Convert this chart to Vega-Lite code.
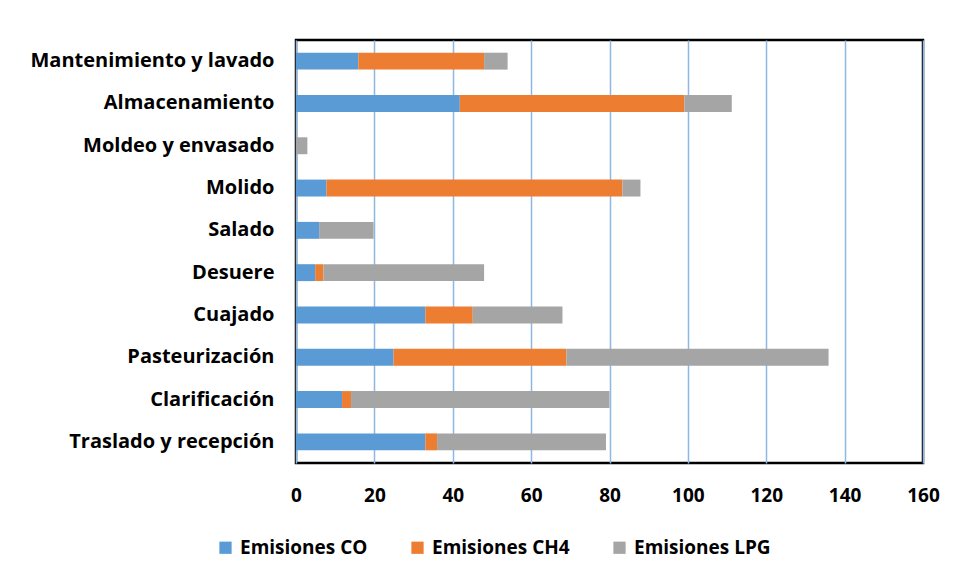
{
  "$schema": "https://vega.github.io/schema/vega-lite/v6.json",
  "width": 627,
  "height": 423,
  "autosize": {"type": "none"},
  "padding": {"left": 296, "top": 40, "right": 35, "bottom": 119},
  "background": "white",
  "data": {
    "values": [
      {"proceso": "Mantenimiento y lavado", "tipo": "Emisiones CO", "orden": 1, "valor": 15.9},
      {"proceso": "Mantenimiento y lavado", "tipo": "Emisiones CH4", "orden": 2, "valor": 32.1},
      {"proceso": "Mantenimiento y lavado", "tipo": "Emisiones LPG", "orden": 3, "valor": 6.0},
      {"proceso": "Almacenamiento", "tipo": "Emisiones CO", "orden": 1, "valor": 41.8},
      {"proceso": "Almacenamiento", "tipo": "Emisiones CH4", "orden": 2, "valor": 57.3},
      {"proceso": "Almacenamiento", "tipo": "Emisiones LPG", "orden": 3, "valor": 12.1},
      {"proceso": "Moldeo y envasado", "tipo": "Emisiones CO", "orden": 1, "valor": 0},
      {"proceso": "Moldeo y envasado", "tipo": "Emisiones CH4", "orden": 2, "valor": 0},
      {"proceso": "Moldeo y envasado", "tipo": "Emisiones LPG", "orden": 3, "valor": 2.9},
      {"proceso": "Molido", "tipo": "Emisiones CO", "orden": 1, "valor": 7.8},
      {"proceso": "Molido", "tipo": "Emisiones CH4", "orden": 2, "valor": 75.5},
      {"proceso": "Molido", "tipo": "Emisiones LPG", "orden": 3, "valor": 4.6},
      {"proceso": "Salado", "tipo": "Emisiones CO", "orden": 1, "valor": 5.9},
      {"proceso": "Salado", "tipo": "Emisiones CH4", "orden": 2, "valor": 0},
      {"proceso": "Salado", "tipo": "Emisiones LPG", "orden": 3, "valor": 13.9},
      {"proceso": "Desuere", "tipo": "Emisiones CO", "orden": 1, "valor": 4.9},
      {"proceso": "Desuere", "tipo": "Emisiones CH4", "orden": 2, "valor": 2.1},
      {"proceso": "Desuere", "tipo": "Emisiones LPG", "orden": 3, "valor": 41.0},
      {"proceso": "Cuajado", "tipo": "Emisiones CO", "orden": 1, "valor": 33.0},
      {"proceso": "Cuajado", "tipo": "Emisiones CH4", "orden": 2, "valor": 12.1},
      {"proceso": "Cuajado", "tipo": "Emisiones LPG", "orden": 3, "valor": 22.9},
      {"proceso": "Pasteurización", "tipo": "Emisiones CO", "orden": 1, "valor": 24.9},
      {"proceso": "Pasteurización", "tipo": "Emisiones CH4", "orden": 2, "valor": 44.1},
      {"proceso": "Pasteurización", "tipo": "Emisiones LPG", "orden": 3, "valor": 66.9},
      {"proceso": "Clarificación", "tipo": "Emisiones CO", "orden": 1, "valor": 11.75},
      {"proceso": "Clarificación", "tipo": "Emisiones CH4", "orden": 2, "valor": 2.3},
      {"proceso": "Clarificación", "tipo": "Emisiones LPG", "orden": 3, "valor": 65.95},
      {"proceso": "Traslado y recepción ", "tipo": "Emisiones CO", "orden": 1, "valor": 33.0},
      {"proceso": "Traslado y recepción ", "tipo": "Emisiones CH4", "orden": 2, "valor": 3.0},
      {"proceso": "Traslado y recepción ", "tipo": "Emisiones LPG", "orden": 3, "valor": 43.1}
    ]
  },
  "mark": {"type": "bar"},
  "encoding": {
    "y": {
      "field": "proceso",
      "type": "nominal",
      "sort": ["Mantenimiento y lavado", "Almacenamiento", "Moldeo y envasado", "Molido", "Salado", "Desuere", "Cuajado", "Pasteurización", "Clarificación", "Traslado y recepción "],
      "scale": {"paddingInner": 0.6, "paddingOuter": 0.3},
      "axis": {
        "title": null,
        "domain": false,
        "ticks": false,
        "labelPadding": 22,
        "labelFont": "Open Sans",
        "labelFontWeight": "bold",
        "labelFontSize": 20,
        "labelColor": "#000000",
        "labelLimit": 400
      }
    },
    "x": {
      "field": "valor",
      "type": "quantitative",
      "stack": "zero",
      "scale": {"domain": [0, 160], "nice": false},
      "axis": {
        "title": null,
        "values": [0, 20, 40, 60, 80, 100, 120, 140, 160],
        "domain": false,
        "ticks": false,
        "grid": true,
        "gridColor": "#8DB8E4",
        "gridWidth": 1.5,
        "labelPadding": 23,
        "labelFont": "Open Sans",
        "labelFontWeight": "bold",
        "labelFontSize": 19,
        "labelColor": "#000000",
        "labelFlush": false
      }
    },
    "color": {
      "field": "tipo",
      "type": "nominal",
      "sort": ["Emisiones CO", "Emisiones CH4", "Emisiones LPG"],
      "scale": {
        "domain": ["Emisiones CO", "Emisiones CH4", "Emisiones LPG"],
        "range": ["#5B9BD5", "#ED7D31", "#A5A5A5"]
      },
      "legend": {
        "title": null,
        "orient": "none",
        "direction": "horizontal",
        "legendX": -80,
        "legendY": 498,
        "symbolType": "square",
        "symbolSize": 150,
        "symbolStrokeWidth": 0,
        "labelFont": "Open Sans",
        "labelFontWeight": "bold",
        "labelFontSize": 19,
        "labelColor": "#000000",
        "columnPadding": 40,
        "labelOffset": 5,
        "labelLimit": 300
      }
    },
    "order": {"field": "orden", "type": "quantitative"}
  },
  "config": {
    "view": {"stroke": "#000000", "strokeWidth": 2.5},
    "axis": {"gridOpacity": 1}
  }
}
